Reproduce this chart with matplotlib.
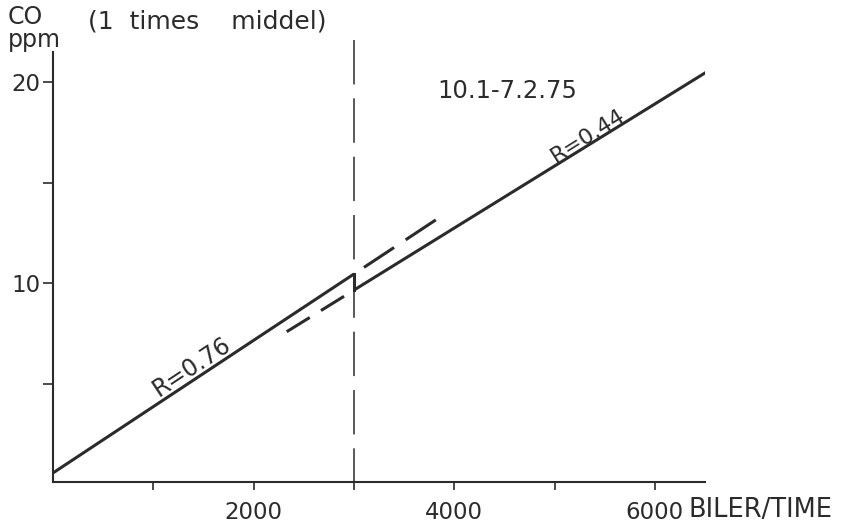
import numpy as np
import matplotlib
matplotlib.use("Agg")
import matplotlib.pyplot as plt

# regression lines (CO ppm vs cars per hour)
x_left = [0, 3000]
y_left = [0.55, 10.45]
x_right = [3000, 6530]
y_right = [9.65, 20.55]
# dashed extensions
x_left_ext = [3100, 3830]
y_left_ext = [10.78, 13.19]
x_right_ext = [2330, 2930]
y_right_ext = [7.58, 9.43]
split_x = 3000

x_ticks = [1000, 2000, 3000, 4000, 5000, 6000]
x_labels = ['', '2000', '', '4000', '', '6000']
y_ticks = [5, 10, 15, 20]
y_labels = ['', '10', '', '20']

plt.rcParams['font.family'] = 'DejaVu Sans'
plt.rcParams['lines.scale_dashes'] = False
ink = '#2b2b2b'

fig = plt.figure(figsize=(8.54, 5.24), dpi=100)
ax = fig.add_axes([53/854, 1-482/524, 652/854, 430/524])

ax.plot(x_left, y_left, color=ink, lw=2.2, solid_capstyle='butt')
ax.plot(x_right, y_right, color=ink, lw=2.2, solid_capstyle='butt')
ax.plot([split_x, split_x], [y_left[1], y_right[0]], color=ink, lw=2.2)
ax.plot(x_left_ext, y_left_ext, color=ink, lw=2.2, dashes=(26, 10))
ax.plot(x_right_ext, y_right_ext, color=ink, lw=2.2, dashes=(19.5, 9.5))
ax.plot([split_x, split_x], [22.1, 0.1], color=ink, lw=1.1, dashes=(32, 10),
        clip_on=False)

ax.set_xlim(0, 6500)
ax.set_ylim(0.1, 21.5)
for s in ['top', 'right']:
    ax.spines[s].set_visible(False)
for s in ['left', 'bottom']:
    ax.spines[s].set_linewidth(1.5)
    ax.spines[s].set_color(ink)

ax.set_xticks(x_ticks)
ax.set_xticklabels(x_labels)
ax.set_yticks(y_ticks)
ax.set_yticklabels(y_labels)
ax.tick_params(axis='x', length=6, width=1.2, pad=8, labelsize=16.5, colors=ink)
ax.tick_params(axis='y', length=7, width=1.2, pad=2, labelsize=16.5, colors=ink)

fig.text(689/854, 1-510/524, 'BILER/TIME', fontsize=18.5, color=ink, va='center')
fig.text(8/854, 1-17/524, 'CO', fontsize=17, color=ink, va='center')
fig.text(8/854, 1-40/524, 'ppm', fontsize=17, color=ink, va='center')
fig.text(88/854, 1-21/524, '(1  times    middel)', fontsize=18, color=ink, va='center')

ax.text(4530, 19.55, '10.1-7.2.75', fontsize=17.5, color=ink, ha='center', va='center')
ax.text(1380, 5.85, 'R=0.76', fontsize=17, color=ink, ha='center', va='center',
        rotation=33.5)
ax.text(5330, 17.35, 'R=0.44', fontsize=16, color=ink, ha='center', va='center',
        rotation=32)

fig.savefig('out.png', dpi=100)
